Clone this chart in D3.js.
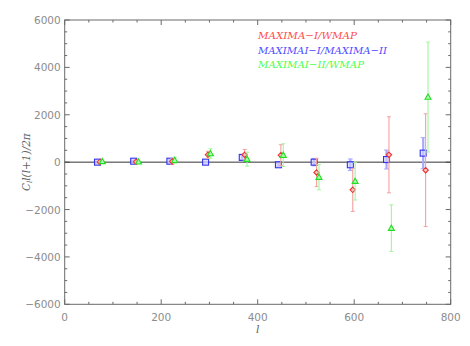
<!DOCTYPE html>
<html lang="en">
<head>
<meta charset="utf-8">
<title>cl comparison</title>
<script type="text/javascript" src="https://d3js.org/d3.v7.min.js"></script>
<style type="text/css">
    body{ margin:0; padding:0; background:#fff; }
    svg{ display:block; }
</style>
</head>
<body>
<div id="chart"></div>
<script type="text/javascript">
// multipole positions per series (blue, red, green are slightly offset)
var ellBlue  = [68, 143, 218, 292, 368, 443, 517, 592, 667, 743]
var ellRed   = [73, 148, 223, 297, 373, 448, 522, 597, 672, 748]
var ellGreen = [78, 153, 228, 302, 378, 453, 527, 602, 677, 753]

// MAXIMA-I / MAXIMA-II (blue squares)
var valBlue = [0, 40, 40, 0, 200, -110, 0, -110, 110, 380]
var errBlue = [40, 40, 60, 30, 90, 60, 155, 245, 400, 655]
// MAXIMA-I / WMAP (red diamonds)
var valRed = [10, 15, 30, 310, 310, 296, -436, -1169, 310, -338]
var errRed = [40, 50, 115, 150, 225, 440, 600, 910, 1605, 2380]
// MAXIMA-II / WMAP (green triangles)
var valGreen = [30, 15, 80, 366, 127, 296, -633, -803, -2788, 2746]
var errGreen = [40, 40, 130, 200, 295, 480, 535, 795, 985, 2320]

var legendLabels = ["MAXIMA\u2212I/WMAP", "MAXIMAI\u2212I/MAXIMA\u2212II", "MAXIMAI\u2212II/WMAP"]
var xTicks = [0, 200, 400, 600, 800]
var yTicks = [-6000, -4000, -2000, 0, 2000, 4000, 6000]

var W = 470, H = 346
var pLeft = 64.7, pRight = 450.7, pTop = 20, pBottom = 304.3

var svg = d3.select("#chart").append("svg").attr("width", W).attr("height", H)

var x = d3.scaleLinear().domain([0, 800]).range([pLeft, pRight])
var y = d3.scaleLinear().domain([-6000, 6000]).range([pBottom, pTop])

var axisColor = "#6a6a6a"
var labelColor = "#8c8c8c"

// frame
svg.append("rect")
    .attr("x", pLeft).attr("y", pTop)
    .attr("width", pRight - pLeft).attr("height", pBottom - pTop)
    .attr("fill", "none").attr("stroke", axisColor).attr("stroke-width", 1)

// ticks, major and minor, on all four sides pointing in
d3.range(0, 801, 50).forEach(function(v){
    var len = v % 200 == 0 ? 5 : 2.5
    svg.append("line").attr("x1", x(v)).attr("x2", x(v)).attr("y1", pBottom).attr("y2", pBottom - len)
        .attr("stroke", axisColor)
    svg.append("line").attr("x1", x(v)).attr("x2", x(v)).attr("y1", pTop).attr("y2", pTop + len)
        .attr("stroke", axisColor)
})
d3.range(-6000, 6001, 500).forEach(function(v){
    var len = v % 2000 == 0 ? 5 : 2.5
    svg.append("line").attr("y1", y(v)).attr("y2", y(v)).attr("x1", pLeft).attr("x2", pLeft + len)
        .attr("stroke", axisColor)
    svg.append("line").attr("y1", y(v)).attr("y2", y(v)).attr("x1", pRight).attr("x2", pRight - len)
        .attr("stroke", axisColor)
})

// tick labels
svg.selectAll(".xl").data(xTicks).enter().append("text")
    .attr("x", function(d){ return x(d) }).attr("y", pBottom + 17)
    .attr("text-anchor", "middle")
    .attr("font-family", "DejaVu Sans").attr("font-size", "10.5px")
    .attr("fill", labelColor)
    .text(function(d){ return d })
svg.selectAll(".yl").data(yTicks).enter().append("text")
    .attr("x", pLeft - 4).attr("y", function(d){ return y(d) + 4 })
    .attr("text-anchor", "end")
    .attr("font-family", "DejaVu Sans").attr("font-size", "10.5px")
    .attr("fill", labelColor)
    .text(function(d){ return d < 0 ? "\u2212" + Math.abs(d) : d })

// axis titles
svg.append("text")
    .attr("x", x(400)).attr("y", 333)
    .attr("text-anchor", "middle")
    .attr("font-family", "DejaVu Serif").attr("font-style", "italic").attr("font-size", "11px")
    .attr("fill", "#666")
    .text("l")
var yt = svg.append("text")
    .attr("transform", "translate(30," + y(0) + ") rotate(-90)")
    .attr("text-anchor", "middle")
    .attr("font-family", "DejaVu Serif").attr("font-style", "italic").attr("font-size", "10.5px")
    .attr("fill", "#666")
yt.append("tspan").text("C")
yt.append("tspan").attr("font-size", "7px").attr("dy", 2).text("l")
yt.append("tspan").attr("dy", -2).text("l(l+1)/2\u03c0")

// zero line
svg.append("line")
    .attr("x1", pLeft).attr("x2", pRight).attr("y1", y(0)).attr("y2", y(0))
    .attr("stroke", "#333").attr("stroke-width", 1)

function drawSeries(ells, vals, errs, barColor, barWidth, capHalf){
    var g = svg.append("g")
    ells.forEach(function(l, i){
        var cx = x(l)
        var y0 = y(vals[i] - errs[i]), y1 = y(vals[i] + errs[i])
        g.append("line").attr("x1", cx).attr("x2", cx).attr("y1", y0).attr("y2", y1)
            .attr("stroke", barColor).attr("stroke-width", barWidth)
        g.append("line").attr("x1", cx - capHalf).attr("x2", cx + capHalf).attr("y1", y0).attr("y2", y0)
            .attr("stroke", barColor).attr("stroke-width", 1)
        g.append("line").attr("x1", cx - capHalf).attr("x2", cx + capHalf).attr("y1", y1).attr("y2", y1)
            .attr("stroke", barColor).attr("stroke-width", 1)
    })
    return g
}

var gB = drawSeries(ellBlue, valBlue, errBlue, "#a8a8ff", 2.2, 2.5)
var gR = drawSeries(ellRed, valRed, errRed, "#f5a0a0", 1.1, 2)
var gG = drawSeries(ellGreen, valGreen, errGreen, "#a0f5a0", 1.1, 2)

// markers
ellBlue.forEach(function(l, i){
    gB.append("rect")
        .attr("x", x(l) - 3).attr("y", y(valBlue[i]) - 3)
        .attr("width", 6).attr("height", 6)
        .attr("fill", "#d0d0ff").attr("fill-opacity", 0.6)
        .attr("stroke", "#3333ee").attr("stroke-width", 1.1)
})
ellRed.forEach(function(l, i){
    var cx = x(l), cy = y(valRed[i])
    gR.append("path")
        .attr("d", "M" + cx + "," + (cy - 2.7) + "L" + (cx + 2.7) + "," + cy + "L" + cx + "," + (cy + 2.7) + "L" + (cx - 2.7) + "," + cy + "Z")
        .attr("fill", "#ffc0c0")
        .attr("stroke", "#ee3333").attr("stroke-width", 1.1)
})
ellGreen.forEach(function(l, i){
    var cx = x(l), cy = y(valGreen[i])
    gG.append("path")
        .attr("d", "M" + cx + "," + (cy - 3) + "L" + (cx + 3) + "," + (cy + 2.2) + "L" + (cx - 3) + "," + (cy + 2.2) + "Z")
        .attr("fill", "#b0ffb0")
        .attr("stroke", "#22dd22").attr("stroke-width", 1.1)
})

// legend
var legendColors = ["#ff4c4c", "#4c4cff", "#4cff4c"]
var legendWidths = [99, 129, 106]
legendLabels.forEach(function(t, i){
    svg.append("text")
        .attr("x", 258).attr("y", 39 + i * 14.5)
        .attr("font-family", "DejaVu Serif").attr("font-style", "italic").attr("font-size", "10px")
        .attr("textLength", legendWidths[i]).attr("lengthAdjust", "spacingAndGlyphs")
        .attr("fill", legendColors[i])
        .text(t)
})
</script>
</body>
</html>
